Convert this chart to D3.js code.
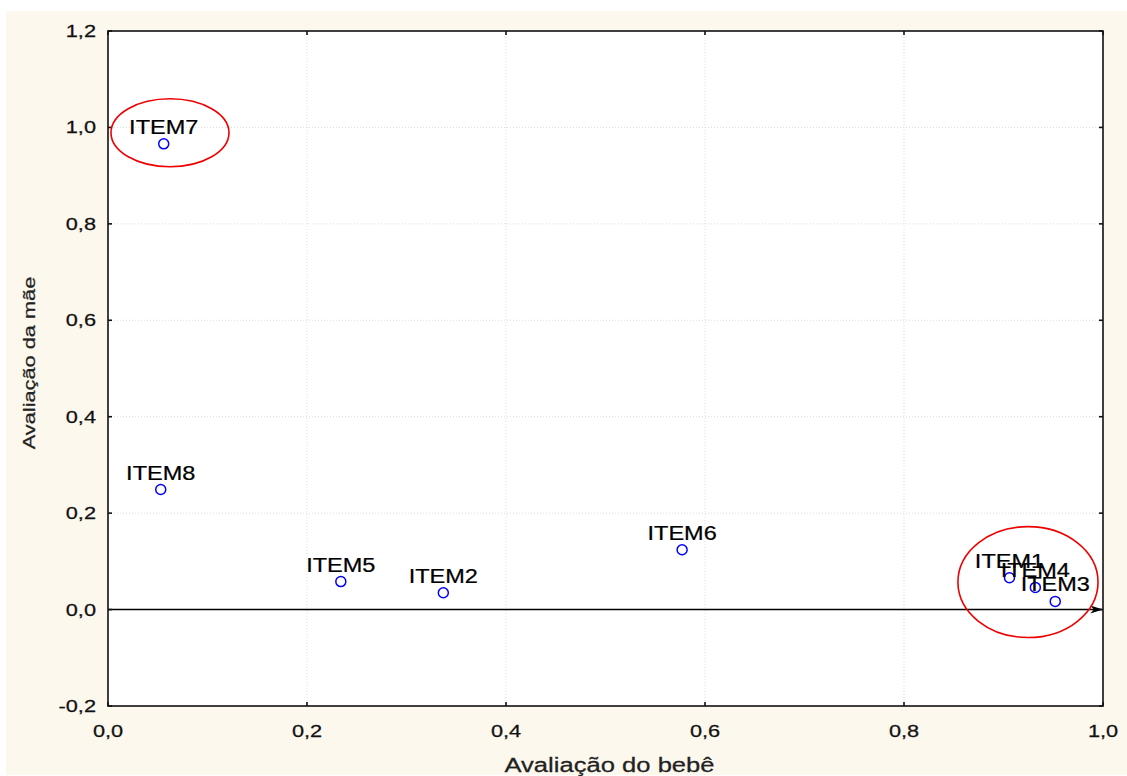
<!DOCTYPE html>
<html lang="pt">
<head>
<meta charset="UTF-8">
<title>Avaliação do bebê x Avaliação da mãe</title>
<script src="https://d3js.org/d3.v7.min.js"></script>
<style>
  body, html { margin: 0; padding: 0; background: #fff; overflow: hidden; }
  svg { display: block; font-family: "Liberation Sans", Arial, sans-serif; }
  svg text { stroke: currentColor; stroke-width: 0.25px; }
</style>
</head>
<body>
<svg id="chart" width="1127" height="776"></svg>
<script>
// data
const items = ["ITEM1", "ITEM2", "ITEM3", "ITEM4", "ITEM5", "ITEM6", "ITEM7", "ITEM8"];
const bebe  = [0.906, 0.337, 0.952, 0.932, 0.234, 0.577, 0.056, 0.053];
const mae   = [0.066, 0.035, 0.017, 0.046, 0.058, 0.124, 0.966, 0.249];

// highlighted groups (ellipses), in data units
const ellCx = [0.0623, 0.9246];
const ellCy = [0.989, 0.057];
const ellRx = [0.0593, 0.0704];
const ellRy = [0.0705, 0.115];

const xDomain = [0, 1];
const yDomain = [-0.2, 1.2];
const xTitle = "Avaliação do bebê";
const yTitle = "Avaliação da mãe";

const W = 1127, H = 776;
const m = { left: 108, right: 1103, top: 31, bottom: 706 };

const svg = d3.select("#chart");
const fmt = d => d3.format(".1f")(d).replace(".", ",").replace("−", "-");

// cream backdrop
svg.append("rect").attr("x", 6).attr("y", 11).attr("width", W - 6).attr("height", H - 12)
  .attr("fill", "#fdf8ed");
svg.append("rect").attr("x", m.left).attr("y", m.top)
  .attr("width", m.right - m.left).attr("height", m.bottom - m.top).attr("fill", "#fff");

const x = d3.scaleLinear().domain(xDomain).range([m.left, m.right]);
const y = d3.scaleLinear().domain(yDomain).range([m.bottom, m.top]);

const xTicks = d3.range(0, 1.0001, 0.2);
const yTicks = d3.range(-0.2, 1.2001, 0.2);

// dotted grid
svg.append("g").selectAll("line").data(xTicks.slice(1, -1)).join("line")
  .attr("x1", d => x(d)).attr("x2", d => x(d)).attr("y1", m.top).attr("y2", m.bottom)
  .attr("stroke", "#dcdcdc").attr("stroke-dasharray", "1,2");
svg.append("g").selectAll("line").data(yTicks.slice(1, -1)).join("line")
  .attr("x1", m.left).attr("x2", m.right).attr("y1", d => y(d)).attr("y2", d => y(d))
  .attr("stroke", "#dcdcdc").attr("stroke-dasharray", "1,2");

// zero line with arrow
svg.append("defs").append("marker").attr("id", "arr")
  .attr("viewBox", "0 0 14 10").attr("refX", 13).attr("refY", 5)
  .attr("markerWidth", 14).attr("markerHeight", 9).attr("markerUnits", "userSpaceOnUse")
  .attr("orient", "auto")
  .append("path").attr("d", "M0,0.5 L14,5 L0,9.5 L4,5 Z").attr("fill", "#000");
svg.append("line").attr("x1", x(0)).attr("x2", x(1) - 1).attr("y1", y(0)).attr("y2", y(0))
  .attr("stroke", "#000").attr("stroke-width", 1.4).attr("marker-end", "url(#arr)");

// frame with inward ticks on all four sides
const tk = 4;
const axes = svg.append("g").attr("stroke", "#111").attr("stroke-width", 1.6);
axes.append("rect").attr("x", m.left).attr("y", m.top)
  .attr("width", m.right - m.left).attr("height", m.bottom - m.top).attr("fill", "none");
xTicks.forEach(d => {
  axes.append("line").attr("x1", x(d)).attr("x2", x(d)).attr("y1", m.bottom).attr("y2", m.bottom - tk);
  axes.append("line").attr("x1", x(d)).attr("x2", x(d)).attr("y1", m.top).attr("y2", m.top + tk);
});
yTicks.forEach(d => {
  axes.append("line").attr("y1", y(d)).attr("y2", y(d)).attr("x1", m.left).attr("x2", m.left + tk);
  axes.append("line").attr("y1", y(d)).attr("y2", y(d)).attr("x1", m.right).attr("x2", m.right - tk);
});

// tick labels (text looks wide in the source, hence the stretch)
const sx = 1.28;
svg.append("g").attr("color", "#111").selectAll("text").data(xTicks).join("text")
  .attr("transform", d => `translate(${x(d)},737) scale(${sx},1)`)
  .attr("text-anchor", "middle").attr("font-size", 17).attr("fill", "#111")
  .text(fmt);
svg.append("g").attr("color", "#111").selectAll("text").data(yTicks).join("text")
  .attr("transform", d => `translate(96,${y(d) + 6}) scale(${sx},1)`)
  .attr("text-anchor", "end").attr("font-size", 17).attr("fill", "#111")
  .text(fmt);

// axis titles
svg.append("text").attr("color", "#222")
  .attr("transform", `translate(${(m.left + m.right) / 2 + 4},772) scale(${sx},1)`)
  .attr("text-anchor", "middle").attr("font-size", 20).attr("fill", "#222").text(xTitle);
svg.append("text").attr("color", "#222")
  .attr("transform", `translate(35,363) rotate(-90) scale(${sx},1)`)
  .attr("text-anchor", "middle").attr("font-size", 17).attr("fill", "#222").text(yTitle);

// points
const pts = items.map((name, i) => ({ name, bx: bebe[i], my: mae[i] }));
svg.append("g").selectAll("circle").data(pts).join("circle")
  .attr("cx", d => x(d.bx)).attr("cy", d => y(d.my)).attr("r", 5)
  .attr("fill", "none").attr("stroke", "#0000ff").attr("stroke-width", 1.5);
svg.append("g").attr("color", "#000").selectAll("text").data(pts).join("text")
  .attr("transform", d => `translate(${x(d.bx)},${y(d.my) - 10}) scale(1.12,1)`)
  .attr("text-anchor", "middle").attr("font-size", 21).attr("fill", "#000")
  .text(d => d.name);

// red ellipses
svg.append("g").selectAll("ellipse").data(ellCx).join("ellipse")
  .attr("cx", d => x(d)).attr("cy", (d, i) => y(ellCy[i]))
  .attr("rx", (d, i) => x(ellRx[i]) - x(0)).attr("ry", (d, i) => y(0) - y(ellRy[i]))
  .attr("fill", "none").attr("stroke", "#ee0000").attr("stroke-width", 1.6);
</script>
</body>
</html>
